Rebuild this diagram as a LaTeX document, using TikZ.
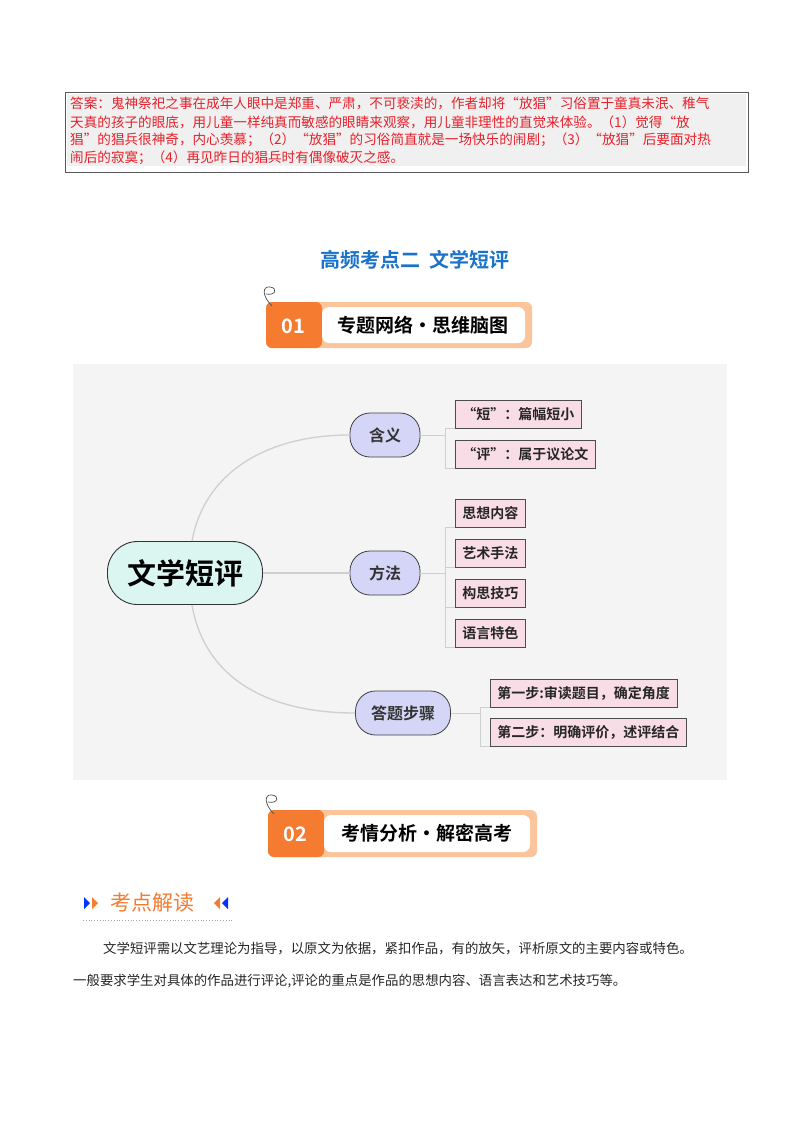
\documentclass[tikz,border=0pt]{standalone}
\usepackage{fontspec}
\setmainfont{Noto Sans CJK SC}
\newfontfamily\cjkb{Noto Sans CJK SC Bold}
\usetikzlibrary{shapes.geometric}
\definecolor{ansred}{HTML}{E8202A}
\definecolor{ttlblue}{HTML}{1A73C8}
\definecolor{orgA}{HTML}{F47B30}
\definecolor{orgB}{HTML}{FBC49A}
\definecolor{bgmap}{HTML}{F4F4F4}
\definecolor{lav}{HTML}{D5D5F7}
\definecolor{mint}{HTML}{DBF5F1}
\definecolor{pinkleaf}{HTML}{F9DDE6}
\definecolor{conn}{HTML}{CFCFCF}
\tikzset{
 anstxt/.style={anchor=west,text=ansred,font=\fontsize{13.6}{14}\selectfont,inner sep=0},
 mid/.style={draw=black!75,fill=lav,rounded corners=20pt,minimum height=44pt,minimum width=70pt,font=\cjkb\fontsize{16}{17}\selectfont,text=black!80,line width=0.8pt},
 leaf/.style={draw=black!70,fill=pinkleaf,anchor=west,minimum height=28pt,inner xsep=7pt,font=\cjkb\fontsize{14}{15}\selectfont,text=black!85,line width=0.7pt},
 cn/.style={draw=conn,line width=1.3pt},
 brk/.style={draw=conn,line width=1pt},
 bodytxt/.style={anchor=west,font=\fontsize{13.4}{14}\selectfont,text=black!85,inner sep=0}
}
\begin{document}
\begin{tikzpicture}[x=1pt,y=-1pt]
\useasboundingbox[fill=white] (0,0) rectangle (800,1132);
% answer box
\fill[black!6] (67,94) rectangle (746,166);
\draw[black!65,line width=0.9pt] (65,92) rectangle (748,172);
\node[anstxt] (a1) at (70,103) {答案：鬼神祭祀之事在成年人眼中是郑重、严肃，不可亵渎的，作者却将“放猖”习俗置于童真未泯、稚气};
\node[anstxt] (a2) at (70,122) {天真的孩子的眼底，用儿童一样纯真而敏感的眼睛来观察，用儿童非理性的直觉来体验。（1）觉得“放};
\node[anstxt] (a3) at (70,140) {猖”的猖兵很神奇，内心羡慕；（2）“放猖”的习俗简直就是一场快乐的闹剧；（3）“放猖”后要面对热};
\node[anstxt] (a4) at (70,158) {闹后的寂寞；（4）再见昨日的猖兵时有偶像破灭之感。};
% title
\node[text=ttlblue,font=\cjkb\fontsize{20}{21}\selectfont] (ttl) at (415,260) {高频考点二\ \ 文学短评};
% banner 01
\fill[orgB,rounded corners=6pt] (266,302) rectangle (532,348);
\fill[orgA,rounded corners=6pt] (266,302) rectangle (322,348);
\fill[white,rounded corners=7pt] (322,307) rectangle (525,343);
\node[text=white,font=\cjkb\fontsize{20}{20}\selectfont] (n01) at (293,326) {01};
\node[font=\cjkb\fontsize{19}{20}\selectfont] (b1) at (423,325) {专题网络·思维脑图};
\draw[black!70,line width=0.7pt] (272,306) .. controls (262,296) and (262,286) .. (270,287) .. controls (278,288) and (276,296) .. (266,294);
% mind map
\fill[bgmap] (73,364) rectangle (727,780);
\node[draw=black!80,fill=mint,rounded corners=30pt,minimum width=155pt,minimum height=63pt,line width=0.9pt,font=\cjkb\fontsize{29}{30}\selectfont] (c) at (185,573) {文学短评};
\node[mid] (m1) at (385,435) {含义};
\node[mid] (m2) at (385,573) {方法};
\node[mid,minimum width=95pt] (m3) at (403,713) {答题步骤};
\node[leaf] (l1) at (455,414) {“短”：篇幅短小};
\node[leaf] (l2) at (455,454) {“评”：属于议论文};
\node[leaf] (l3) at (455,513) {思想内容};
\node[leaf] (l4) at (455,553) {艺术手法};
\node[leaf] (l5) at (455,593) {构思技巧};
\node[leaf] (l6) at (455,633) {语言特色};
\node[leaf] (l7) at (490,693) {第一步:审读题目，确定角度};
\node[leaf] (l8) at (490,732) {第二步：明确评价，述评结合};
\draw[cn] ([xshift=7pt]c.north) .. controls (205,470) and (270,435) .. (m1.west);
\draw[cn] (c.east) -- (m2.west);
\draw[cn] ([xshift=7pt]c.south) .. controls (205,680) and (270,713) .. (m3.west);
\coordinate (h1) at (445,435);
\coordinate (h2) at (445,573);
\coordinate (h3) at (480,713);
\draw[brk] (m1.east) -- (h1);
\draw[brk] (l1.south west) -- ([xshift=-10pt]l1.south west) |- (l2.south west);
\draw[brk] (m2.east) -- (h2);
\draw[brk] (l3.south west) -- ([xshift=-10pt]l3.south west) |- (l6.south west);
\draw[brk] ([xshift=-10pt]l4.south west) -- (l4.south west);
\draw[brk] ([xshift=-10pt]l5.south west) -- (l5.south west);
\draw[brk] (m3.east) -- (h3);
\draw[brk] (l7.south west) -- ([xshift=-10pt]l7.south west) |- (l8.south west);
% banner 02
\fill[orgB,rounded corners=6pt] (268,810) rectangle (537,857);
\fill[orgA,rounded corners=6pt] (268,810) rectangle (324,857);
\fill[white,rounded corners=7pt] (324,815) rectangle (530,852);
\node[text=white,font=\cjkb\fontsize{20}{20}\selectfont] (n02) at (295,834) {02};
\node[font=\cjkb\fontsize{19}{20}\selectfont] (b2) at (427,833) {考情分析·解密高考};
\draw[black!70,line width=0.7pt] (274,814) .. controls (264,804) and (264,794) .. (272,795) .. controls (280,796) and (278,804) .. (268,802);
% heading
\fill[blue!80!cyan] (84,897) -- (90,903) -- (84,909) -- cycle;
\fill[orgA] (92,897) -- (98,903) -- (92,909) -- cycle;
\node[anchor=west,text=orgA,font=\fontsize{21}{22}\selectfont,inner sep=0] (kd) at (110,903) {考点解读};
\fill[orgA] (220,897) -- (214,903) -- (220,909) -- cycle;
\fill[blue!80!cyan] (228,897) -- (222,903) -- (228,909) -- cycle;
\draw[black!35,dotted,line width=0.8pt] (83,920) -- (233,920);
\node[bodytxt] (p1) at (103,949) {文学短评需以文艺理论为指导，以原文为依据，紧扣作品，有的放矢，评析原文的主要内容或特色。};
\node[bodytxt] (p2) at (73,981) {一般要求学生对具体的作品进行评论,评论的重点是作品的思想内容、语言表达和艺术技巧等。};
\end{tikzpicture}
\end{document}
